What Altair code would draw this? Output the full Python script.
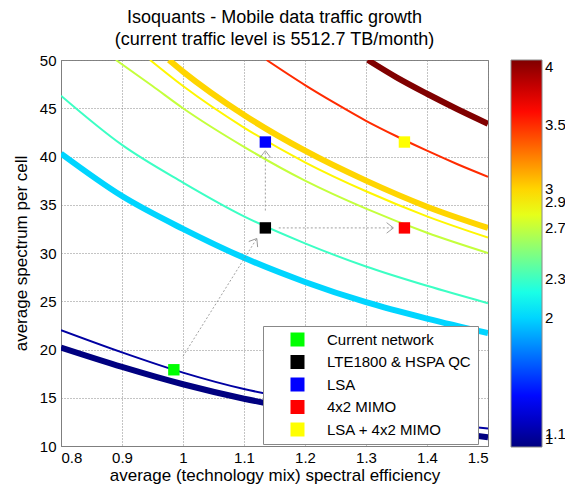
import altair as alt
import pandas as pd

# ---------------- data ----------------
LEVELS = [1, 1.1, 2, 2.3, 2.7, 2.9, 3, 3.5, 4]

lvl_1_x = [0.8, 0.9, 1.0, 1.1, 1.2, 1.3, 1.4, 1.5]
lvl_1_y = [20.2, 18.2, 16.4, 14.9, 13.7, 12.6, 11.7, 10.9]

lvl_1_1_x = [0.8, 0.9, 1.0, 1.1, 1.2, 1.3, 1.4, 1.5]
lvl_1_1_y = [22.0, 19.7, 17.6, 15.9, 14.7, 13.6, 12.6, 11.8]

lvl_2_x = [0.8, 0.9, 1.0, 1.1, 1.2, 1.3, 1.4, 1.5]
lvl_2_y = [40.3, 35.9, 32.5, 29.5, 27.0, 24.9, 23.2, 21.7]

lvl_2_3_x = [0.8, 0.9, 1.0, 1.1, 1.2, 1.3, 1.4, 1.5]
lvl_2_3_y = [46.3, 41.2, 37.3, 33.8, 31.0, 28.6, 26.6, 24.8]

lvl_2_7_x = [0.89, 0.95, 1.0, 1.1, 1.2, 1.3, 1.4, 1.5]
lvl_2_7_y = [50.0, 47.3, 45.0, 41.0, 37.5, 34.6, 32.1, 30.0]

lvl_2_9_x = [0.946, 1.0, 1.1, 1.2, 1.3, 1.4, 1.5]
lvl_2_9_y = [50.0, 47.3, 43.0, 39.4, 36.4, 33.8, 31.6]

lvl_3_x = [0.977, 1.0, 1.1, 1.2, 1.3, 1.4, 1.5]
lvl_3_y = [50.0, 48.8, 44.3, 40.6, 37.5, 34.8, 32.6]

lvl_3_5_x = [1.137, 1.2, 1.25, 1.3, 1.35, 1.4, 1.45, 1.5]
lvl_3_5_y = [50.0, 47.4, 45.5, 43.7, 42.1, 40.6, 39.2, 37.9]

lvl_4_x = [1.303, 1.35, 1.4, 1.45, 1.5]
lvl_4_y = [50.0, 48.2, 46.5, 44.9, 43.4]

CURVES_X = [lvl_1_x, lvl_1_1_x, lvl_2_x, lvl_2_3_x, lvl_2_7_x, lvl_2_9_x, lvl_3_x, lvl_3_5_x, lvl_4_x]
CURVES_Y = [lvl_1_y, lvl_1_1_y, lvl_2_y, lvl_2_3_y, lvl_2_7_y, lvl_2_9_y, lvl_3_y, lvl_3_5_y, lvl_4_y]

SCEN_NAMES = ["Current network", "LTE1800 & HSPA QC", "LSA", "4x2 MIMO", "LSA + 4x2 MIMO"]
SCEN_X = [0.985, 1.135, 1.135, 1.363, 1.363]
SCEN_Y = [17.9, 32.6, 41.5, 32.6, 41.5]
SCEN_COLORS = ["#00ff00", "#000000", "#0000ff", "#ff0000", "#ffff00"]

ARROW_X1 = [1.0, 1.135, 1.157]
ARROW_Y1 = [19.3, 34.4, 32.6]
ARROW_X2 = [1.121, 1.135, 1.345]
ARROW_Y2 = [31.5, 40.6, 32.6]

X_TICKS = [0.8, 0.9, 1.0, 1.1, 1.2, 1.3, 1.4, 1.5]
Y_TICKS = [10, 15, 20, 25, 30, 35, 40, 45, 50]

JET = ["#000080", "#0000ff", "#0080ff", "#00ffff", "#80ff80",
       "#ffff00", "#ff8000", "#ff0000", "#800000"]

# ---------------- tables ----------------
rows = []
for lv, xs, ys in zip(LEVELS, CURVES_X, CURVES_Y):
    for xv, yv in zip(xs, ys):
        rows.append({"level": lv, "x": xv, "y": yv})
curves = pd.DataFrame(rows)

scen = pd.DataFrame({"name": SCEN_NAMES, "x": SCEN_X, "y": SCEN_Y})
arrows = pd.DataFrame({"x1": ARROW_X1, "y1": ARROW_Y1, "x2": ARROW_X2, "y2": ARROW_Y2})

W, H = 427, 386
FONT = "Liberation Sans"

xscale = alt.Scale(domain=[0.8, 1.5], nice=False, zero=False)
yscale = alt.Scale(domain=[10, 50], nice=False, zero=False)

xaxis = alt.Axis(values=X_TICKS, format="~g", title="average (technology mix) spectral efficiency",
                 labelPadding=4, titlePadding=2, titleFontSize=17)
yaxis = alt.Axis(values=Y_TICKS, title="average spectrum per cell", labelPadding=5, titlePadding=9,
                 titleFontSize=17)

color = alt.Color(
    "level:Q",
    scale=alt.Scale(domain=[1, 4], range=JET, interpolate="rgb"),
    legend=alt.Legend(
        title=None, orient="right", offset=23, direction="vertical",
        gradientLength=387, gradientThickness=31, values=LEVELS, format="~g",
        labelOverlap=False, labelFontSize=15, labelOffset=3, labelBaseline="middle",
        gradientStrokeColor="#888888", gradientStrokeWidth=1, padding=0,
    ),
)

base = alt.Chart(curves).encode(
    x=alt.X("x:Q", scale=xscale, axis=xaxis),
    y=alt.Y("y:Q", scale=yscale, axis=yaxis),
    color=color,
    detail="level:N",
    order="x:Q",
)

thick = base.mark_line(strokeWidth=6, clip=True, interpolate="monotone").transform_filter(
    "datum.level % 1 == 0")
thin = base.mark_line(strokeWidth=2, clip=True, interpolate="monotone").transform_filter(
    "datum.level % 1 != 0")

rules = alt.Chart(arrows).mark_rule(color="#888888", strokeWidth=0.8, strokeDash=[2, 2]).encode(
    x=alt.X("x1:Q", scale=xscale), y=alt.Y("y1:Q", scale=yscale), x2="x2:Q", y2="y2:Q")

heads = alt.Chart(arrows).transform_calculate(
    ang=f"(atan2((datum.x2 - datum.x1) * {W} / 0.7, (datum.y2 - datum.y1) * {H} / 40) * 180 / PI + 360) % 360"
).mark_point(shape="M -1 1.3 L 0 0 L 1 1.3", filled=False, size=110, color="#888888",
             strokeWidth=0.8, opacity=1).encode(
    x=alt.X("x2:Q", scale=xscale), y=alt.Y("y2:Q", scale=yscale),
    angle=alt.Angle("ang:Q", scale=None))

points = alt.Chart(scen).mark_square(size=130, opacity=1, strokeWidth=0).encode(
    x=alt.X("x:Q", scale=xscale),
    y=alt.Y("y:Q", scale=yscale),
    fill=alt.Fill(
        "name:N",
        scale=alt.Scale(domain=SCEN_NAMES, range=SCEN_COLORS),
        legend=alt.Legend(
            title=None, orient="none", legendX=202, legendY=266,
            symbolType="square", symbolSize=196, symbolStrokeWidth=0, symbolOpacity=1,
            labelFontSize=15, labelLimit=400, rowPadding=6.5, padding=6,
            symbolOffset=21, labelOffset=22, strokeColor="#888888", fillColor="white",
        ),
    ),
)

chart = alt.layer(thick, thin, rules, heads, points).properties(
    width=W, height=H,
    title=alt.TitleParams(
        text=["Isoquants - Mobile data traffic growth", "(current traffic level is 5512.7 TB/month)"],
        fontSize=18, fontWeight="normal", anchor="middle", offset=4, lineHeight=22,
        font=FONT, color="black"),
    autosize=alt.AutoSizeParams(type="none"),
    padding={"left": 53, "top": 52, "right": 77, "bottom": 39},
).configure(font=FONT).configure_view(
    stroke="#7f7f7f", strokeWidth=1
).configure_axis(
    labelFont=FONT, labelFontSize=15, labelColor="black",
    titleFont=FONT, titleFontWeight="normal", titleColor="black",
    domainColor="#7f7f7f", ticks=False,
    gridColor="#888888", gridDash=[1, 2], gridOpacity=1, gridWidth=1,
).configure_legend(labelFont=FONT, labelColor="black")

chart.save("out.html", embed_options={"renderer": "svg", "actions": False})
